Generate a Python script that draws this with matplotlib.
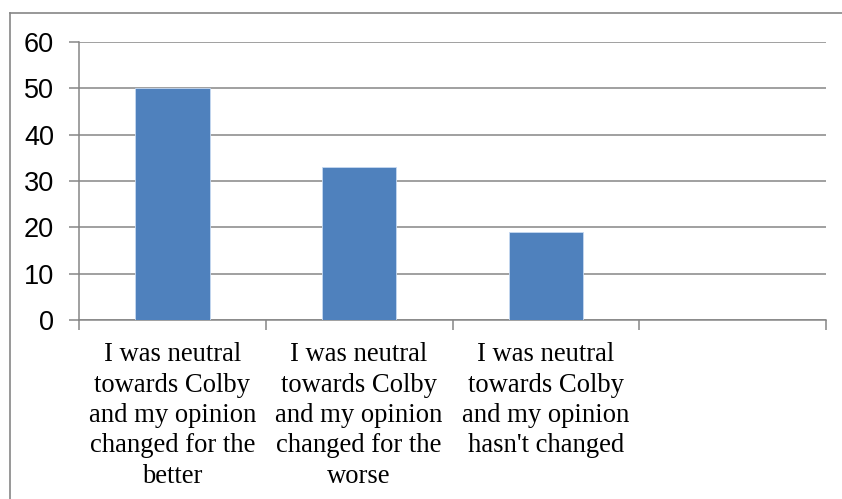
import matplotlib
matplotlib.use("Agg")
import matplotlib.pyplot as plt
from matplotlib.lines import Line2D

categories = [
    "I was neutral\ntowards Colby\nand my opinion\nchanged for the\nbetter",
    "I was neutral\ntowards Colby\nand my opinion\nchanged for the\nworse",
    "I was neutral\ntowards Colby\nand my opinion\nhasn't changed",
    "",
]
values = [50, 33, 19, None]
y_ticks = [0, 10, 20, 30, 40, 50, 60]

W, H = 842, 499
fig = plt.figure(figsize=(W / 100, H / 100), dpi=100)

# outer chart frame (left and top edges)
frame_color = "#868686"
fx, fy = 9.5 / W, 1 - 12.5 / H
fig.add_artist(Line2D([fx, fx], [0, fy], transform=fig.transFigure,
                      color=frame_color, linewidth=1.2))
fig.add_artist(Line2D([fx, 1], [fy, fy], transform=fig.transFigure,
                      color=frame_color, linewidth=1.2))

left, right, top, bottom = 79, 826, 42, 320
ax = fig.add_axes([left / W, 1 - bottom / H, (right - left) / W, (bottom - top) / H])

grid_color = "#868686"
xs = list(range(len(categories)))
bar_x = [x for x, v in zip(xs, values) if v is not None]
bar_v = [v for v in values if v is not None]
ax.bar(bar_x, bar_v, width=0.4, color="#4F81BD", edgecolor="#C6D9F1",
       linewidth=0.6, zorder=3)

ax.set_xlim(-0.5, len(categories) - 0.5)
ax.set_ylim(0, 60)
ax.set_yticks(y_ticks)
ax.set_yticklabels([str(t) for t in y_ticks], fontfamily="Liberation Sans", fontsize=19.5)
ax.yaxis.grid(True, color=grid_color, linewidth=1.1, zorder=0)
ax.set_axisbelow(True)

# category labels centred, tick marks at category boundaries
ax.set_xticks(xs)
ax.set_xticklabels(categories, fontfamily="Liberation Serif", fontsize=19.2,
                   linespacing=1.28)
ax.tick_params(axis="x", which="major", length=0, pad=16)
ax.set_xticks([x - 0.5 for x in xs] + [len(categories) - 0.5], minor=True)
ax.tick_params(axis="x", which="minor", length=7, width=1.1, color=grid_color,
               direction="out")
ax.tick_params(axis="y", length=7, width=1.1, color=grid_color, pad=11)

for s in ["top", "right"]:
    ax.spines[s].set_visible(False)
for s in ["left", "bottom"]:
    ax.spines[s].set_color(grid_color)
    ax.spines[s].set_linewidth(1.1)

fig.savefig("out.png", dpi=100)
